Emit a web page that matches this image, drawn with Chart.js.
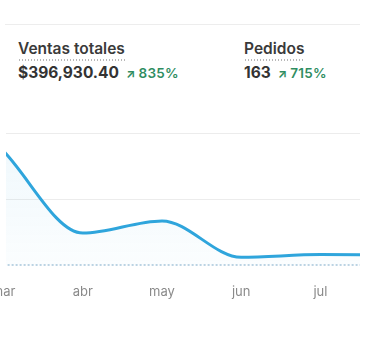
<!DOCTYPE html>
<html lang="es">
<head>
<meta charset="utf-8">
<title>Ventas totales</title>
<script src="https://cdn.jsdelivr.net/npm/chart.js@4.4.1/dist/chart.umd.min.js"></script>
<style>
  html, body { margin: 0; padding: 0; background: #fff; overflow: hidden; }
  body { width: 375px; height: 345px; position: relative; font-family: Inter, "Noto Sans", sans-serif; color: #303030; }
  .sep { position: absolute; left: 5px; top: 24px; width: 355px; height: 1px; background: #ededed; }
  .metric { position: absolute; top: 38px; }
  .metric .title { font-size: 15.5px; font-weight: 600; line-height: 20px; display: inline-block; color: #3a3a3a;
    padding-bottom: 2px; background-image: radial-gradient(circle, #b8b8b8 0.7px, transparent 0.9px);
    background-size: 3px 2px; background-repeat: repeat-x; background-position: 0 100%; }
  .metric .value { margin-top: 1px; font-size: 15.5px; font-weight: 700; line-height: 22px; white-space: nowrap; color: #333; }
  .metric .delta { font-size: 13.5px; font-weight: 600; color: #2f8d61; margin-left: 7px; letter-spacing: 0.2px; }
  .metric .delta .arr { font-size: 12px; font-weight: 700; margin-right: 3px; }
  #wrap { position: absolute; left: -42px; top: 110px; width: 402px; height: 220px; }
</style>
</head>
<body>
<div class="sep"></div>
<div class="metric" style="left:18px">
  <div class="title">Ventas totales</div>
  <div class="value">$396,930.40<span class="delta"><span class="arr">&#8599;</span>835%</span></div>
</div>
<div class="metric" style="left:244px">
  <div class="title">Pedidos</div>
  <div class="value">163<span class="delta"><span class="arr">&#8599;</span>715%</span></div>
</div>
<div id="wrap"><canvas id="chart"></canvas></div>
<script>
// Monthly sales, current period vs. previous period
const months = ['mar', 'abr', 'may', 'jun', 'jul', 'ago'];
const salesCurrent = [172500, 48900, 67200, 12200, 16300, 15600];
const salesPrevious = [0, 0, 0, 0, 0, 0];
const yTicks = [0, 100000, 200000];

const toPoints = arr => arr.map((v, i) => ({ x: i, y: v }));

const ctx = document.getElementById('chart').getContext('2d');

new Chart(ctx, {
  type: 'line',
  data: {
    datasets: [
      {
        label: 'Período anterior',
        data: toPoints(salesPrevious),
        borderColor: 'rgba(110,158,192,0.9)',
        borderWidth: 2,
        borderDash: [2, 2],
        pointRadius: 0,
        fill: false,
        tension: 0
      },
      {
        label: 'Ventas totales',
        data: toPoints(salesCurrent),
        borderColor: '#2fa5dc',
        borderWidth: 3,
        pointRadius: 0,
        cubicInterpolationMode: 'monotone',
        fill: 'origin',
        backgroundColor: (c) => {
          const area = c.chart.chartArea;
          if (!area) return 'rgba(47,165,220,0.05)';
          const g = c.chart.ctx.createLinearGradient(0, area.top, 0, area.bottom);
          g.addColorStop(0, 'rgba(47,165,220,0.08)');
          g.addColorStop(1, 'rgba(47,165,220,0.02)');
          return g;
        }
      }
    ]
  },
  options: {
    responsive: true,
    maintainAspectRatio: false,
    animation: false,
    layout: { padding: { left: 48, right: 0, top: 23, bottom: 11 } },
    plugins: { legend: { display: false }, tooltip: { enabled: false } },
    scales: {
      x: {
        type: 'linear',
        min: 0.03,
        max: 4.5,
        afterBuildTicks: (axis) => { axis.ticks = months.slice(0, 5).map((m, i) => ({ value: i })); },
        grid: { display: false, drawTicks: false },
        border: { display: false },
        ticks: {
          padding: 19,
          color: '#8a8a8a',
          font: { family: 'Inter', size: 13 },
          callback: (v) => months[v] ?? ''
        }
      },
      y: {
        min: yTicks[0],
        max: yTicks[yTicks.length - 1],
        afterBuildTicks: (axis) => { axis.ticks = yTicks.map(v => ({ value: v })); },
        grid: {
          drawTicks: false,
          color: (c) => (c.tick && c.tick.value === 0 ? 'rgba(0,0,0,0)' : '#ececec'),
          lineWidth: 1
        },
        border: { display: false },
        ticks: { display: false }
      }
    }
  }
});
</script>
</body>
</html>
